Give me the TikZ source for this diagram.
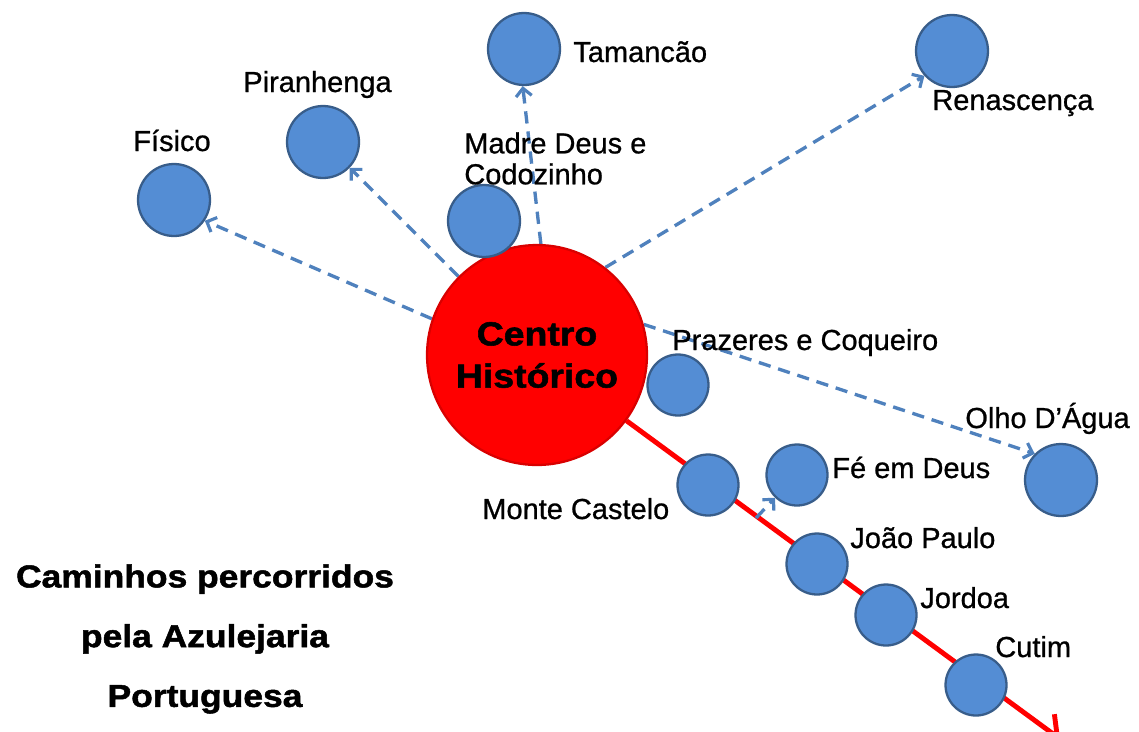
\documentclass[tikz,border=0pt]{standalone}
\usepackage{fontspec}
\setmainfont{Liberation Sans}[FakeBold=0.8]
\newfontfamily\negrito[FakeStretch=1.12,FakeBold=1.6]{Liberation Sans}
\usepackage{xcolor}
\usepackage{tikz}
\usetikzlibrary{arrows.meta,backgrounds}

\definecolor{bairro}{RGB}{84,141,212}
\definecolor{bairroborda}{RGB}{56,93,138}
\definecolor{rota}{RGB}{79,129,189}

\begin{document}
\begin{tikzpicture}[x=0.02cm,y=-0.02cm,
    bairro/.style={circle,fill=bairro,draw=bairroborda,line width=1.3pt,minimum size=1.44cm,inner sep=0pt},
    bairropeq/.style={bairro,minimum size=1.22cm},
    rotulo/.style={anchor=base west,inner sep=0pt,font=\fontsize{16.5}{17.6}\selectfont},
    caminho/.style={draw=rota,line width=1.9pt,dash pattern=on 7pt off 4.5pt,-{Straight Barb[length=4.5pt,width=9pt,line width=1.8pt]}},
    trilho/.style={draw=red,line width=2.8pt,-{Straight Barb[length=9pt,width=19pt,line width=2.8pt]}}]
\useasboundingbox (0,0) rectangle (1139,731);

    \node[bairro,fill=red,draw=red!85!black,minimum size=4.4cm,align=center,font=\negrito\bfseries\fontsize{19}{24}\selectfont] (centro) at (537,355) {Centro\\Histórico};

    \node[bairro] (fisico) at (174,200) {};
    \node[bairro] (piranhenga) at (323,142) {};
    \node[bairro] (madre) at (484,221) {};
    \node[bairro] (tamancao) at (524,49) {};
    \node[bairro] (renascenca) at (952,51) {};
    \node[bairro] (olho) at (1061,480) {};
    \node[bairropeq] (prazeres) at (678,385) {};
    \node[bairropeq] (monte) at (708,485) {};
    \node[bairropeq] (fe) at (797,475) {};
    \node[bairropeq] (joao) at (817,564) {};
    \node[bairropeq] (jordoa) at (886,615) {};
    \node[bairropeq] (cutim) at (976,685) {};

    \node[rotulo] (lfisico) at (133,151) {Físico};
    \node[rotulo] (lpiranhenga) at (243,92) {Piranhenga};
    \node[rotulo] (ltamancao) at (573,62) {Tamancão};
    \node[rotulo,anchor=north west,align=left] (lmadre) at (464,132) {Madre Deus e\\Codozinho};
    \node[rotulo] (lrenascenca) at (932,110) {Renascença};
    \node[rotulo] (lprazeres) at (672,350) {Prazeres e Coqueiro};
    \node[rotulo] (lolho) at (965,428) {Olho D’Água};
    \node[rotulo] (lfe) at (832,478) {Fé em Deus};
    \node[rotulo] (lmonte) at (482,519) {Monte Castelo};
    \node[rotulo] (ljoao) at (850,548) {João Paulo};
    \node[rotulo] (ljordoa) at (920,608) {Jordoa};
    \node[rotulo] (lcutim) at (995,657) {Cutim};

    \node[inner sep=0pt,align=center,font=\negrito\bfseries\fontsize{18}{34}\selectfont] (titulo) at (205,639) {Caminhos percorridos\\pela Azulejaria\\Portuguesa};

    \coordinate (fesaida) at (756,518);
    \coordinate (fim) at (1060,739);

    % draw the arrows
    \begin{scope}[on background layer]
    \draw[trilho] (centro) -- (fim);
    \draw[caminho] (centro.161) -- (fisico.-34);
    \draw[caminho] (centro.135) -- (piranhenga.-44);
    \draw[caminho] (centro.88) -- (tamancao.-92);
    \draw[caminho] (centro.52) -- (renascenca.222);
    \draw[caminho] (centro.16) -- (olho.135);
    \draw[caminho] (fesaida) -- (fe.226);
    \end{scope}

\end{tikzpicture}
\end{document}
